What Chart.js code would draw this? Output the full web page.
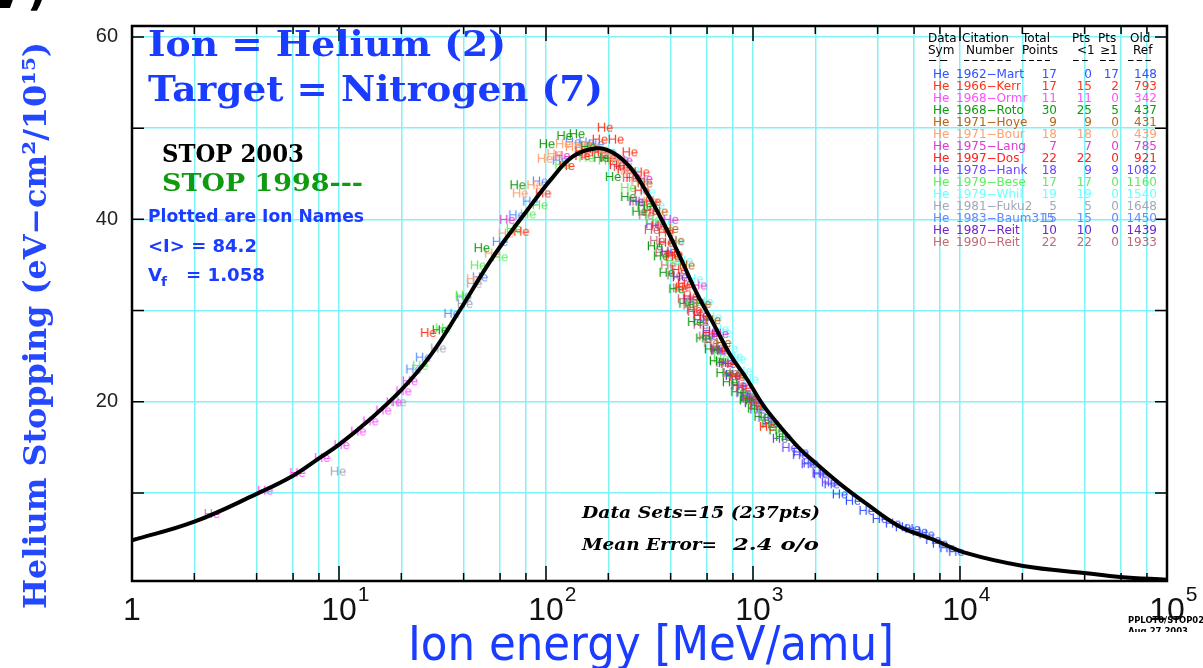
<!DOCTYPE html>
<html>
<head>
<meta charset="utf-8">
<script src="https://cdn.jsdelivr.net/npm/chart.js@4.4.0/dist/chart.umd.min.js"></script>
<style>
html, body { margin: 0; padding: 0; background: #fff; overflow: hidden; }
#wrap { width: 1203px; height: 668px; position: relative; }
</style>
</head>
<body>
<div id="wrap"><canvas id="chart"></canvas></div>
<script>
// axis ticks
const xTicks = [1, 2, 4, 6, 8, 10, 20, 40, 60, 80, 100, 200, 400, 600, 800, 1000,
  2000, 4000, 6000, 8000, 10000, 20000, 40000, 60000, 80000, 100000];
const xDecades = [1, 10, 100, 1000, 10000, 100000];
const xExponents = ['', '1', '2', '3', '4', '5'];
const yTicks = [10, 20, 30, 40, 50, 60];
const yLabelled = [20, 40, 60];

// STOP 2003 curve (energy, stopping)
const curveE = [1, 2, 4, 6, 8, 10, 14, 20, 27.5, 38, 50, 60, 80, 105, 135, 176, 211, 255, 306, 383,
  444, 535, 643, 774, 934, 1122, 1350, 1690, 1955, 2630, 3540, 5130, 7430, 10770, 20200, 40900, 59300, 100000];
const curveS = [4.8, 6.85, 9.9, 11.9, 13.8, 15.3, 18.0, 21.3, 25.0, 29.9, 34.3, 37.0, 40.8, 44.3, 46.9, 47.8, 47.3, 45.7, 43.0, 38.9,
  35.9, 31.9, 28.6, 25.2, 22.5, 19.6, 17.3, 14.8, 13.5, 11.0, 8.8, 6.3, 4.9, 3.4, 2.0, 1.2, 0.8, 0.5];
// STOP 1998 (dashed, nearly hidden under the 2003 curve)
const old98E = [1, 2, 4, 6, 8, 10, 14, 20, 27.5, 38, 50, 60, 80, 105, 135, 176, 211, 255, 306, 383,
  444, 535, 643, 774, 934, 1122, 1350, 1690, 1955, 2630, 3540, 5130, 7430, 10770, 20200, 40900, 59300, 100000];
const old98S = [4.9, 6.9, 9.9, 11.9, 13.8, 15.3, 18.0, 21.3, 25.0, 29.9, 34.3, 37.0, 40.8, 44.3, 46.9, 47.8, 47.3, 45.7, 43.0, 38.9,
  35.9, 31.9, 28.6, 25.2, 22.5, 19.6, 17.3, 14.8, 13.5, 11.0, 8.8, 6.3, 4.9, 3.4, 2.0, 1.2, 0.8, 0.5];

// measured data sets [energy, stopping]
const mart = [[1700,14.5],[1900,13.3],[2100,12.2],[2400,11.0],[2630,9.9],[3040,9.2],[3540,8.1],[4100,7.2],[4750,6.7],
  [5300,6.3],[5900,6.1],[6400,5.8],[6900,5.5],[7430,4.9],[8000,4.5],[8700,4.0],[9600,3.6]];
const kerr = [[27,27.6],[76,38.7],[97,42.9],[126,45.9],[150,47.5],[182,48.8],[193,50.1],[218,48.8],[254,47.4],
  [290,45.2],[330,42.0],[380,38.6],[420,36.2],[460,32.6],[520,30.1],[1050,19.6],[1170,17.3]];
const ormr = [[2.43,7.75],[4.4,10.3],[6.3,12.25],[8.3,13.9],[10.3,15.3],[12.4,16.8],[14.2,17.9],[16.4,19.1],
  [18.4,20.0],[20.5,21.2],[22,22.3]];
const roto = [[30.7,27.9],[49,36.9],[73,43.8],[101,48.3],[123,49.2],[141,49.4],[160,48.0],[185,46.8],[211,44.7],
  [250,42.5],[283,40.9],[300,41.5],[336,37.1],[360,36.0],[383,34.2],[427,32.4],[477,30.8],[526,28.8],[576,27.0],
  [633,25.8],[670,24.5],[721,23.2],[774,22.2],[850,21.1],[934,20.2],[1024,19.3],[1100,18.4],[1200,17.6],[1300,16.9],[1400,16.2]];
const hoye = [[300,44.0],[356,40.9],[400,39.0],[427,37.7],[480,35.0],[576,30.8],[640,29.0],[720,26.5],[850,23.0]];
const bour = [[45,33.5],[55,36.3],[64,38.5],[75,42.9],[88,43.8],[99,46.7],[110,47.2],[121,48.3],[135,48.0],
  [150,48.2],[165,48.0],[183,47.7],[200,47.2],[225,46.5],[250,45.4],[280,44.2],[320,42.0],[380,38.9]];
const lang = [[65,40.0],[120,47.0],[240,46.5],[300,44.5],[400,40.0],[550,32.8],[700,27.5]];
const dos = [[150,47.0],[165,47.8],[180,47.4],[200,46.8],[220,46.0],[240,45.5],[265,44.6],[290,43.2],[320,41.0],
  [350,39.3],[380,37.5],[410,36.0],[440,34.5],[470,33.0],[500,31.6],[560,29.5],[620,27.6],[690,25.7],[760,24.2],
  [840,22.8],[900,21.6],[970,20.4]];
const hank = [[560,29.0],[620,27.3],[680,25.6],[740,24.3],[800,23.0],[860,21.8],[900,21.0],[950,20.4],[990,19.9],
  [1050,19.2],[1150,18.3],[1230,17.7],[1350,16.0],[1500,15.0],[1690,14.2],[1860,13.2],[2130,12.1],[2330,11.2]];
const bese = [[24.7,24.0],[31.9,28.1],[39.7,31.7],[47,35.0],[60,35.9],[70,39.0],[82,40.6],[93.5,41.6],[120,46.0],
  [157,46.8],[195,46.5],[250,43.5],[330,40.0],[412,35.5],[520,31.0],[700,24.8],[960,20.6]];
const whil = [[200,47.5],[230,46.5],[260,45.5],[283,44.3],[310,43.0],[343,41.6],[380,39.8],[427,37.6],[470,35.5],
  [526,33.5],[588,31.0],[650,29.3],[700,28.0],[721,27.6],[774,25.9],[820,25.0],[850,24.7],[910,23.4],[975,22.5]];
const fuku2 = [[9.9,12.4],[19.4,20.0],[30.2,25.9],[40.6,30.8],[45,33.0]];
const baum = [[22.9,23.6],[25.5,24.9],[35,29.7],[40,31.5],[48,33.7],[60,37.6],[72,40.5],[84,42.0],[93.5,44.2],
  [117,46.5],[135,48.5],[157,48.5],[175,48.3],[200,47.4],[230,46.6]];
const reit87 = [[274,42.0],[330,39.5],[390,36.5],[444,33.7],[500,31.3],[560,29.5],[620,27.8],[680,25.8],[800,22.9],[950,20.6]];
const reit90 = [[230,45.8],[255,44.6],[283,42.0],[305,40.5],[325,38.9],[345,37.7],[366,36.4],[390,35.0],[418,33.9],
  [445,32.5],[470,31.3],[500,30.6],[526,29.9],[560,28.5],[595,27.2],[630,26.5],[670,26.0],[720,24.3],[780,23.2],
  [850,21.9],[950,20.6],[990,20.0]];

// table on the right
const citations = ['1962\u2212Mart','1966\u2212Kerr','1968\u2212Ormr','1968\u2212Roto','1971\u2212Hoye','1971\u2212Bour',
  '1975\u2212Lang','1997\u2212Dos','1978\u2212Hank','1979\u2212Bese','1979\u2212Whil','1981\u2212Fuku2',
  '1983\u2212Baum315','1987\u2212Reit','1990\u2212Reit'];
const totals = ['17','17','11','30','9','18','7','22','18','17','19','5','15','10','22'];
const below1 = ['0','15','11','25','9','18','7','22','9','17','19','5','15','10','22'];
const above1 = ['17','2','0','5','0','0','0','0','9','0','0','0','0','0','0'];
const oldRefs = ['148','793','342','437','431','439','785','921','1082','1160','1540','1648','1450','1439','1933'];
const setColors = ['#3050ff','#ff3418','#ff50ff','#109a10','#b8661a','#ffa070','#dc3cd0','#ff2020','#7044ff',
  '#60ec60','#70ffff','#a0a8b8','#5c8cff','#7024cc','#c06a78'];
const sets = [mart, kerr, ormr, roto, hoye, bour, lang, dos, hank, bese, whil, fuku2, baum, reit87, reit90];

function heMark(color) {
  const c = document.createElement('canvas');
  c.width = 18; c.height = 13;
  const g = c.getContext('2d');
  g.font = '13px "Liberation Sans"';
  g.fillStyle = color;
  g.textAlign = 'center';
  g.textBaseline = 'middle';
  g.fillText('He', 9, 7);
  return c;
}

function fitText(ctx, text, x, y, w, font, color) {
  ctx.save();
  ctx.font = font;
  ctx.fillStyle = color;
  ctx.textBaseline = 'alphabetic';
  ctx.textAlign = 'left';
  const m = ctx.measureText(text).width;
  ctx.translate(x, y);
  ctx.scale(w / m, 1);
  ctx.fillText(text, 0, 0);
  ctx.restore();
}

const BLUE = '#1a3cff';
const GRID = '#7ef4f8';

const frameTicks = {
  id: 'frameTicks',
  afterDatasetsDraw(chart) {
    const ctx = chart.ctx, a = chart.chartArea;
    const xs = chart.scales.x, ys = chart.scales.y;
    ctx.save();
    ctx.strokeStyle = '#000';
    ctx.lineWidth = 1.5;
    xs.ticks.forEach(t => {
      const px = xs.getPixelForValue(t.value);
      const dec = Math.abs(Math.log10(t.value) - Math.round(Math.log10(t.value))) < 1e-9;
      const len = dec ? 15 : 8;
      ctx.beginPath();
      ctx.moveTo(px, a.bottom); ctx.lineTo(px, a.bottom - len);
      ctx.moveTo(px, a.top); ctx.lineTo(px, a.top + len);
      ctx.stroke();
    });
    ys.ticks.forEach(t => {
      const py = ys.getPixelForValue(t.value);
      ctx.beginPath();
      ctx.moveTo(a.left, py); ctx.lineTo(a.left + 12, py);
      ctx.moveTo(a.right, py); ctx.lineTo(a.right - 12, py);
      ctx.stroke();
    });
    ctx.lineWidth = 2.5;
    ctx.strokeRect(a.left, a.top, a.right - a.left, a.bottom - a.top);
    ctx.restore();
  }
};

const annotations = {
  id: 'annotations',
  afterDraw(chart) {
    const ctx = chart.ctx;
    const xs = chart.scales.x;
    ctx.save();

    // x tick labels with exponents
    ctx.fillStyle = '#111';
    ctx.textBaseline = 'alphabetic';
    xDecades.forEach((v, i) => {
      const px = xs.getPixelForValue(v);
      ctx.font = '32px "Liberation Sans"';
      ctx.textAlign = 'center';
      if (xExponents[i] === '') {
        ctx.fillText('1', px, 620);
      } else {
        ctx.fillText('10', px, 620);
        const w = ctx.measureText('10').width;
        ctx.font = '21px "Liberation Sans"';
        ctx.textAlign = 'left';
        ctx.fillText(xExponents[i], px + w / 2 + 1, 601);
      }
    });

    // axis titles
    fitText(ctx, 'Ion energy [MeV/amu]', 408, 660, 486, '48px "DejaVu Sans"', BLUE);
    ctx.save();
    ctx.translate(46, 609);
    ctx.rotate(-Math.PI / 2);
    fitText(ctx, 'Helium Stopping (eV\u2212cm\u00b2/10\u00b9\u2075)', 0, 0, 567, 'bold 31px "DejaVu Serif"', '#2448ff');
    ctx.restore();

    // headings inside plot
    fitText(ctx, 'Ion = Helium (2)', 148, 56, 358, 'bold 36px "DejaVu Serif"', BLUE);
    fitText(ctx, 'Target = Nitrogen (7)', 148, 101, 455, 'bold 36px "DejaVu Serif"', BLUE);
    fitText(ctx, 'STOP 2003', 162, 162, 142, 'bold 25px "DejaVu Serif"', '#000');
    fitText(ctx, 'STOP 1998---', 162, 191, 201, 'bold 25px "DejaVu Serif"', '#109a10');
    fitText(ctx, 'Plotted are Ion Names', 148, 222, 216, 'bold 18px "DejaVu Sans"', BLUE);
    fitText(ctx, '<I> = 84.2', 148, 252, 109, 'bold 18px "DejaVu Sans"', BLUE);
    fitText(ctx, 'V', 148, 281, 14, 'bold 18px "DejaVu Sans"', BLUE);
    fitText(ctx, 'f', 161, 286, 6, 'bold 12px "DejaVu Sans"', BLUE);
    fitText(ctx, '= 1.058', 186, 281, 79, 'bold 18px "DejaVu Sans"', BLUE);
    fitText(ctx, 'Data Sets=15 (237pts)', 582, 518, 238, 'bold italic 16px "DejaVu Serif"', '#000');
    fitText(ctx, 'Mean Error=', 582, 550, 135, 'bold italic 16px "DejaVu Serif"', '#000');
    fitText(ctx, '2.4 o/o', 733, 550, 86, 'bold italic 16px "DejaVu Serif"', '#000');

    // data table
    ctx.fillStyle = '#000';
    ctx.font = '12px "DejaVu Sans"';
    ctx.textAlign = 'left';
    [['Data', 928], ['Citation', 962], ['Total', 1022], ['Pts', 1072], ['Pts', 1098], ['Old', 1130]]
      .forEach(([t, x]) => ctx.fillText(t, x, 42));
    [['Sym', 928], ['Number', 966], ['Points', 1022], ['<1', 1077], ['\u22651', 1100], ['Ref', 1133]]
      .forEach(([t, x]) => ctx.fillText(t, x, 54));
    ctx.strokeStyle = '#000';
    ctx.lineWidth = 1;
    [[928, 950, 2], [963, 1013, 6], [1020, 1052, 4], [1072, 1090, 2], [1099, 1117, 2], [1127, 1153, 3]]
      .forEach(([x0, x1, n]) => {
        const step = (x1 - x0) / n;
        for (let k = 0; k < n; k++) {
          ctx.beginPath();
          ctx.moveTo(x0 + k * step + 1, 60.5);
          ctx.lineTo(x0 + (k + 0.75) * step, 60.5);
          ctx.stroke();
        }
      });
    citations.forEach((c, i) => {
      const y = 78 + i * 12.03;
      ctx.fillStyle = setColors[i];
      ctx.textAlign = 'left';
      ctx.fillText('He', 933, y);
      ctx.fillText(c, 956, y);
      ctx.textAlign = 'right';
      ctx.fillText(totals[i], 1057, y);
      ctx.fillText(below1[i], 1092, y);
      ctx.fillText(above1[i], 1119, y);
      ctx.fillText(oldRefs[i], 1157, y);
    });

    // corner marks
    fitText(ctx, 'PPLOT0/STOP02', 1128, 623, 76, 'bold 9px "DejaVu Sans"', '#000');
    ctx.save();
    ctx.beginPath();
    ctx.rect(1120, 626, 90, 6);
    ctx.clip();
    fitText(ctx, 'Aug 27 2003', 1128, 634, 60, 'bold 9px "DejaVu Sans"', '#000');
    ctx.restore();
    ctx.fillStyle = '#000';
    ctx.textAlign = 'left';
    ctx.font = 'bold 44px "DejaVu Sans"';
    ctx.fillText('V', -12, 8);
    ctx.fillText(')', 27, 5);
    ctx.restore();
  }
};

const datasets = [
  {
    type: 'line',
    label: 'STOP 2003',
    data: curveE.map((e, i) => ({ x: e, y: curveS[i] })),
    borderColor: '#000',
    borderWidth: 4,
    pointRadius: 0,
    tension: 0.4,
    fill: false
  },
  {
    type: 'line',
    label: 'STOP 1998',
    data: old98E.map((e, i) => ({ x: e, y: old98S[i] })),
    borderColor: '#109a10',
    borderWidth: 2,
    borderDash: [8, 6],
    pointRadius: 0,
    tension: 0.4,
    fill: false
  }
];
sets.forEach((pts, i) => {
  datasets.push({
    type: 'scatter',
    label: citations[i],
    data: pts.map(p => ({ x: p[0], y: p[1] })),
    pointStyle: heMark(setColors[i]),
    pointRadius: 6
  });
});

new Chart(document.getElementById('chart'), {
  data: { datasets },
  options: {
    responsive: true,
    maintainAspectRatio: false,
    devicePixelRatio: 1,
    animation: false,
    layout: { padding: { top: 19, right: 36, left: 0, bottom: 0 } },
    plugins: { legend: { display: false }, tooltip: { enabled: false } },
    scales: {
      x: {
        type: 'logarithmic',
        min: 1,
        max: 100000,
        afterBuildTicks: s => { s.ticks = xTicks.map(v => ({ value: v })); },
        afterFit: s => { s.height = 87; },
        ticks: { display: false },
        grid: { color: GRID, lineWidth: 1.5, drawTicks: false },
        border: { display: false }
      },
      y: {
        type: 'linear',
        min: 0.35,
        max: 61.2,
        afterBuildTicks: s => { s.ticks = yTicks.map(v => ({ value: v })); },
        afterFit: s => { s.width = 132; },
        ticks: {
          callback: v => yLabelled.includes(v) ? String(v) : '',
          font: { family: '"Liberation Sans"', size: 20 },
          color: '#222',
          padding: 14
        },
        grid: { color: GRID, lineWidth: 1.5, drawTicks: false },
        border: { display: false }
      }
    }
  },
  plugins: [frameTicks, annotations]
});
</script>
</body>
</html>
